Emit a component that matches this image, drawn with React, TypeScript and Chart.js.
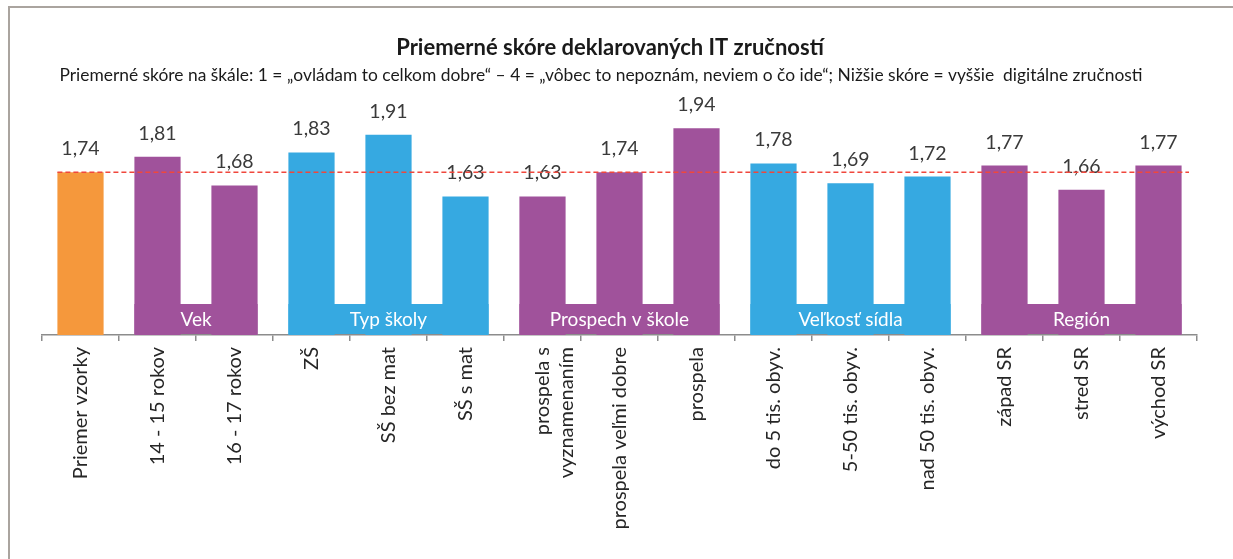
import React, { useEffect, useRef } from "react";
import { Chart, registerables } from "chart.js";

Chart.register(...registerables);

const TITLE = "Priemerné skóre deklarovaných IT zručností";
const SUBTITLE =
  "Priemerné skóre na škále: 1 = „ovládam to celkom dobre“ – 4 = „vôbec to nepoznám, neviem o čo ide“; Nižšie skóre = vyššie  digitálne zručnosti";

const categories: (string | string[])[] = [
  "Priemer vzorky",
  "14 - 15 rokov",
  "16 - 17 rokov",
  "ZŠ",
  "SŠ bez mat",
  "SŠ s mat",
  ["prospela s", "vyznamenaním"],
  "prospela veľmi dobre",
  "prospela",
  "do 5 tis. obyv.",
  "5-50 tis. obyv.",
  "nad 50 tis. obyv.",
  "západ SR",
  "stred SR",
  "východ SR",
];

const scores = [1.74, 1.81, 1.68, 1.83, 1.91, 1.63, 1.63, 1.74, 1.94, 1.78, 1.69, 1.72, 1.77, 1.66, 1.77];

const AVERAGE = 1.74;

const groupNames = ["Vek", "Typ školy", "Prospech v škole", "Veľkosť sídla", "Región"];
const groupStart = [1, 3, 6, 9, 12];
const groupEnd = [2, 5, 8, 11, 14];

const ORANGE = "#F5983C";
const PURPLE = "#A0529B";
const BLUE = "#36A9E1";
const groupColors = [PURPLE, BLUE, PURPLE, BLUE, PURPLE];

const barColors = scores.map((_, i) => {
  if (i === 0) return ORANGE;
  const g = groupStart.findIndex((s, k) => i >= s && i <= groupEnd[k]);
  return groupColors[g];
});

const FONT = "Lato, 'Open Sans', sans-serif";

const overlayPlugin = {
  id: "overlay",
  afterDatasetsDraw(chart: any) {
    const ctx = chart.ctx;
    const meta = chart.getDatasetMeta(0);
    const area = chart.chartArea;
    const yScale = chart.scales.y;

    // value labels
    ctx.save();
    ctx.fillStyle = "#3a3a3a";
    ctx.font = `19.5px ${FONT}`;
    ctx.textAlign = "center";
    ctx.textBaseline = "alphabetic";
    meta.data.forEach((bar: any, i: number) => {
      ctx.fillText(scores[i].toFixed(2).replace(".", ","), bar.x, bar.y - 17);
    });
    ctx.restore();

    // group bands
    ctx.save();
    groupNames.forEach((name, g) => {
      const a = meta.data[groupStart[g]];
      const b = meta.data[groupEnd[g]];
      const x0 = a.x - a.width / 2;
      const x1 = b.x + b.width / 2;
      const y1 = area.bottom - 1;
      const y0 = y1 - 30;
      ctx.fillStyle = groupColors[g];
      ctx.fillRect(x0, y0, x1 - x0, y1 - y0);
      ctx.fillStyle = "#ffffff";
      ctx.font = `19px ${FONT}`;
      ctx.textAlign = "center";
      ctx.textBaseline = "middle";
      ctx.fillText(name, (x0 + x1) / 2, (y0 + y1) / 2 + 1);
    });
    ctx.restore();

    // average dashed line
    const first = meta.data[0];
    const y = yScale.getPixelForValue(AVERAGE);
    ctx.save();
    ctx.strokeStyle = "#F0473C";
    ctx.lineWidth = 1.5;
    ctx.setLineDash([5, 3]);
    ctx.beginPath();
    ctx.moveTo(first.x - first.width / 2, y);
    ctx.lineTo(area.right - 8, y);
    ctx.stroke();
    ctx.restore();

    // title & subtitle
    ctx.save();
    ctx.fillStyle = "#1a1a1a";
    ctx.textAlign = "center";
    ctx.textBaseline = "middle";
    ctx.font = `bold 22px ${FONT}`;
    ctx.fillText(TITLE, 610, 48);
    ctx.font = `17.4px ${FONT}`;
    ctx.fillText(SUBTITLE, 601, 75);
    ctx.restore();
  },
};

export default function App() {
  const ref = useRef<HTMLCanvasElement | null>(null);

  useEffect(() => {
    if (!ref.current) return;
    const chart = new Chart(ref.current, {
      type: "bar",
      data: {
        labels: categories,
        datasets: [
          {
            data: scores,
            backgroundColor: barColors,
            borderWidth: 0,
            barPercentage: 0.6,
            categoryPercentage: 1,
          },
        ],
      },
      options: {
        animation: false,
        responsive: false,
        maintainAspectRatio: false,
        layout: { padding: { left: 42, right: 36, top: 93, bottom: 0 } },
        plugins: {
          legend: { display: false },
          tooltip: { enabled: false },
          title: { display: false },
        },
        scales: {
          x: {
            offset: true,
            border: { display: true, color: "#8c8c8c", width: 1.5 },
            grid: {
              display: true,
              offset: true,
              drawOnChartArea: false,
              drawTicks: true,
              tickLength: 6,
              color: "#8c8c8c",
              lineWidth: 1.5,
            },
            ticks: {
              minRotation: 90,
              maxRotation: 90,
              autoSkip: false,
              padding: 6,
              color: "#262626",
              font: { family: FONT, size: 20 },
            },
            afterFit(scale: any) {
              scale.height = 224;
            },
          },
          y: {
            display: false,
            min: 1,
            max: 2.1,
          },
        },
      },
      plugins: [overlayPlugin],
    });
    return () => chart.destroy();
  }, []);

  return (
    <div style={{ position: "fixed", left: 0, top: 0, width: 1233, height: 559, background: "#fff" }}>
      <div
        style={{
          position: "absolute",
          left: 8,
          top: 6,
          right: 0,
          bottom: 0,
          borderLeft: "2px solid #aaa49f",
          borderTop: "2px solid #aaa49f",
        }}
      />
      <canvas ref={ref} width={1233} height={559} style={{ position: "absolute", left: 0, top: 0 }} />
    </div>
  );
}
